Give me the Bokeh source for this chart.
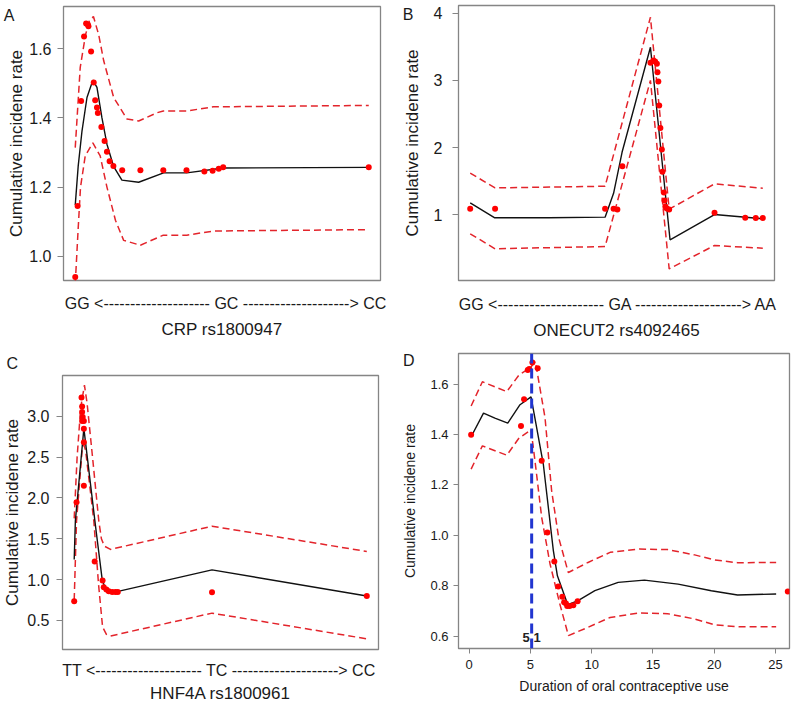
from bokeh.plotting import figure
from bokeh.models import Range1d, FixedTicker, Span, PrintfTickFormatter, LinearAxis, Title
from bokeh.layouts import column, row
from bokeh.embed import file_html
from bokeh.resources import INLINE
from bokeh.core.properties import value

FONT = "Liberation Sans"
RED_PT = "#ff0000"
RED_LN = "#e3242b"
TXT = "#1a1a1a"
GRAY = "#858585"

# ---------------- Panel A : CRP rs1800947 ----------------
a_pt_x = [0, 0.8, 2.0, 3.0, 3.7, 4.3, 4.5, 5.4, 6.3, 6.8, 7.4, 7.7, 8.9, 10.0, 10.8, 11.7, 13.0,
          16.0, 22.2, 30.0, 37.9, 44.0, 46.8, 48.9, 50.4, 100]
a_pt_y = [0.94, 1.145, 1.449, 1.635, 1.673, 1.67, 1.665, 1.592, 1.502, 1.451, 1.43, 1.414, 1.374,
          1.333, 1.302, 1.275, 1.261, 1.249, 1.249, 1.249, 1.249, 1.245, 1.247, 1.253, 1.257, 1.257]
a_fit_x = [0, 1.0, 2.3, 4.0, 6.0, 7.4, 9.1, 10.8, 13.1, 15.9, 21.6, 30.1, 38.0, 50.4, 100]
a_fit_y = [1.148, 1.26, 1.362, 1.459, 1.509, 1.488, 1.40, 1.324, 1.259, 1.22, 1.214, 1.241, 1.241, 1.255, 1.257]
a_up_x = [0, 1.7, 3.5, 4.8, 6.2, 8.0, 9.7, 13.1, 17.6, 21.6, 27.9, 30.0, 38.0, 47.1, 100]
a_up_y = [1.314, 1.546, 1.64, 1.68, 1.693, 1.64, 1.565, 1.459, 1.397, 1.391, 1.415, 1.42, 1.42, 1.432, 1.436]
a_lo_x = [0, 1.0, 1.8, 3.4, 6.0, 8.5, 10.8, 13.7, 16.5, 22.2, 30.0, 38.0, 47.1, 100]
a_lo_y = [0.92, 1.08, 1.2, 1.29, 1.328, 1.29, 1.2, 1.104, 1.046, 1.032, 1.061, 1.061, 1.073, 1.077]
a_yticks = [1.0, 1.2, 1.4, 1.6]
a_xtext = "GG <-------------------- GC --------------------> CC"
a_xtitle = "CRP rs1800947"

# ---------------- Panel B : ONECUT2 rs4092465 ----------------
b_pt_x = [0, 8.5, 46.1, 49.0, 50.3, 52.0, 61.6, 62.6, 63.2, 63.8, 64.0, 64.3, 64.6, 65.0, 65.5,
          65.7, 66.2, 66.4, 66.7, 67.2, 68.0, 83.5, 94.0, 97.6, 100]
b_pt_y = [1.089, 1.089, 1.089, 1.089, 1.08, 1.723, 3.262, 3.296, 3.28, 3.247, 3.122, 2.984, 2.627,
          2.29, 1.972, 1.64, 1.332, 1.213, 1.124, 1.094, 1.079, 1.03, 0.955, 0.952, 0.952]
b_fit_x = [0, 8.4, 26.8, 46.1, 49.0, 51.9, 61.6, 68.3, 83.5, 100]
b_fit_y = [1.178, 0.955, 0.955, 0.965, 1.32, 1.93, 3.494, 0.628, 1.004, 0.94]
b_up_x = [0, 8.5, 46.1, 61.6, 68.0, 83.5, 100]
b_up_y = [1.62, 1.40, 1.425, 3.94, 1.083, 1.46, 1.396]
b_lo_x = [0, 8.5, 46.1, 61.6, 68.0, 83.5, 100]
b_lo_y = [0.717, 0.494, 0.528, 3.0, 0.196, 0.543, 0.503]
b_yticks = [1, 2, 3, 4]
b_xtext = "GG <-------------------- GA --------------------> AA"
b_xtitle = "ONECUT2 rs4092465"

# ---------------- Panel C : HNF4A rs1800961 ----------------
c_pt_x = [0, 0.8, 2.5, 2.7, 2.7, 2.9, 2.7, 3.3, 3.3, 3.3, 3.3, 7.0, 9.7, 10.1, 11.0, 11.8, 13.0,
          14.1, 14.9, 47.1, 100]
c_pt_y = [0.736, 1.948, 3.23, 3.12, 3.05, 2.99, 2.94, 2.94, 2.846, 2.68, 2.15, 1.222, 0.99, 0.908,
          0.88, 0.859, 0.85, 0.849, 0.85, 0.847, 0.80]
c_fit_x = [0, 0.4, 3.3, 7.3, 9.6, 10.6, 11.8, 13.0, 15.0, 47.1, 100]
c_fit_y = [1.247, 1.72, 2.85, 1.65, 0.99, 0.90, 0.865, 0.85, 0.856, 1.12, 0.80]
c_up_x = [0, 1.0, 2.2, 3.5, 4.4, 6.4, 8.4, 9.3, 10.3, 12.4, 47.1, 100]
c_up_y = [1.75, 2.5, 3.1, 3.38, 3.16, 2.45, 1.72, 1.5, 1.41, 1.37, 1.654, 1.345]
c_lo_x = [0, 0.8, 2.7, 3.3, 3.9, 6.7, 8.3, 9.7, 11.0, 12.4, 47.1, 100]
c_lo_y = [0.75, 1.72, 2.58, 2.65, 2.58, 1.72, 0.95, 0.42, 0.33, 0.31, 0.59, 0.276]
c_yticks = [0.5, 1.0, 1.5, 2.0, 2.5, 3.0]
c_xtext = "TT <-------------------- TC --------------------> CC"
c_xtitle = "HNF4A rs1800961"

# ---------------- Panel D : duration of OC use ----------------
d_pt_x = [0.16, 4.48, 4.23, 4.78, 4.9, 5.16, 5.59, 5.92, 6.38, 6.95, 7.27, 7.6, 7.75, 7.9, 8.0,
          8.2, 8.5, 8.85, 26.0]
d_pt_y = [1.399, 1.54, 1.434, 1.656, 1.66, 1.685, 1.663, 1.296, 1.012, 0.897, 0.798, 0.757, 0.735,
          0.73, 0.72, 0.72, 0.723, 0.739, 0.778]
d_fit_x = [0.16, 1.17, 2.1, 3.15, 4.15, 5.05, 6.05, 6.87, 7.2, 8.04, 8.85, 10.26, 12.16, 14.3,
           17.05, 19.76, 21.9, 25.05]
d_fit_y = [1.391, 1.485, 1.465, 1.445, 1.518, 1.549, 1.283, 0.94, 0.84, 0.726, 0.741, 0.781, 0.814,
           0.823, 0.807, 0.781, 0.764, 0.768]
d_up_x = [0.16, 1.08, 3.07, 4.07, 5.0, 5.4, 6.19, 6.73, 7.3, 8.09, 9.7, 11.5, 13.9, 16.2, 18.4,
          20.0, 21.9, 25.05]
d_up_y = [1.513, 1.609, 1.570, 1.636, 1.665, 1.69, 1.467, 1.177, 0.992, 0.853, 0.893, 0.933, 0.946,
          0.944, 0.923, 0.903, 0.892, 0.893]
d_lo_x = [0.16, 1.08, 3.07, 4.07, 5.05, 5.37, 5.92, 6.6, 7.4, 8.1, 9.7, 11.5, 13.9, 16.2, 18.4,
          20.0, 21.9, 25.05]
d_lo_y = [1.263, 1.355, 1.318, 1.386, 1.419, 1.296, 1.071, 0.887, 0.728, 0.603, 0.636, 0.675, 0.693,
          0.69, 0.669, 0.646, 0.638, 0.638]
d_cut = 5.1
d_cut_label = "5.1"
d_xticks = [0, 5, 10, 15, 20, 25]
d_yticks = [0.6, 0.8, 1.0, 1.2, 1.4, 1.6]
d_xtitle = "Duration of oral contraceptive use"

YTITLE = "Cumulative incidene rate"
XR_GENO = (-4, 104)


def make_fig(W, H, geom, xr, yr):
    fl, fr, ft, fb = geom
    p = figure(width=W, height=H, x_range=Range1d(*xr), y_range=Range1d(*yr),
               output_backend="svg", toolbar_location=None, title=None,
               min_border_left=fl, min_border_right=W - fr,
               min_border_top=ft, min_border_bottom=H - fb)
    try:
        p.frame_align = False
    except Exception:
        pass
    p.grid.visible = False
    p.outline_line_color = GRAY
    p.outline_line_width = 1.3
    p.background_fill_color = "white"
    p.border_fill_color = "white"
    for ax in p.axis:
        ax.axis_line_color = GRAY
        ax.major_tick_line_color = GRAY
        ax.minor_tick_line_color = None
        ax.major_tick_in = 0
        ax.major_label_text_color = TXT
        ax.major_label_text_font = FONT
        ax.axis_label_text_font = FONT
        ax.axis_label_text_font_style = "normal"
        ax.axis_label_text_color = TXT
    return p


def data_at(px, py, geom, xr, yr):
    fl, fr, ft, fb = geom
    x = xr[0] + (px - fl) / (fr - fl) * (xr[1] - xr[0])
    y = yr[1] - (py - ft) / (fb - ft) * (yr[1] - yr[0])
    return x, y


def add_letter_axis(p, letter, py, geom, xr, yr, standoff):
    y = data_at(0, py, geom, xr, yr)[1]
    ax = LinearAxis(ticker=FixedTicker(ticks=[y]), formatter=PrintfTickFormatter(format=letter),
                    axis_line_color=None, major_tick_line_color=None, minor_tick_line_color=None,
                    major_tick_out=0, major_tick_in=0, major_label_standoff=standoff,
                    major_label_text_font_size="16px", major_label_text_font=FONT,
                    major_label_text_color=TXT)
    p.add_layout(ax, "left")


def draw_series(p, ptx, pty, fx, fy, ux, uy, lx, ly):
    p.line(ux, uy, line_color=RED_LN, line_width=1.5, line_dash="7 4")
    p.line(lx, ly, line_color=RED_LN, line_width=1.5, line_dash="7 4")
    p.line(fx, fy, line_color="#111111", line_width=1.4)
    p.scatter(ptx, pty, size=6, fill_color=RED_PT, line_color=None)


def genotype_panel(W, H, geom, yr, yticks, fmt, series, xtext, xtitle, text_cx,
                   tick_std, lab_std, x_std, xlab_std):
    xr = XR_GENO
    p = make_fig(W, H, geom, xr, yr)
    p.yaxis.ticker = FixedTicker(ticks=yticks)
    p.yaxis.formatter = PrintfTickFormatter(format=fmt)
    p.yaxis.major_tick_out = 6
    p.yaxis.major_label_text_font_size = "16px"
    p.yaxis.major_label_standoff = tick_std
    p.yaxis.axis_label = YTITLE
    p.yaxis.axis_label_text_font_size = "17px"
    p.yaxis.axis_label_standoff = lab_std
    # x axis carries the genotype text line and the SNP name
    xc = data_at(text_cx, 0, geom, xr, yr)[0]
    p.xaxis.ticker = FixedTicker(ticks=[xc])
    p.xaxis.formatter = PrintfTickFormatter(format=xtext)
    p.xaxis.axis_line_color = None
    p.xaxis.major_tick_line_color = None
    p.xaxis.major_tick_out = 0
    p.xaxis.major_label_text_font_size = "16px"
    p.xaxis.major_label_standoff = x_std
    p.xaxis.axis_label = xtitle
    p.xaxis.axis_label_text_font_size = "17px"
    p.xaxis.axis_label_standoff = xlab_std
    draw_series(p, *series)
    return p


# Panel A
gA = (63, 380, 6, 280)
yrA = (0.93, 1.722)
pA = genotype_panel(395, 350, gA, yrA, a_yticks, "%.1f",
                    (a_pt_x, a_pt_y, a_fit_x, a_fit_y, a_up_x, a_up_y, a_lo_x, a_lo_y),
                    a_xtext, a_xtitle, 225, 6, 0, 14, 5)
add_letter_axis(pA, "A", 15, gA, XR_GENO, yrA, -10)

# Panel B
gB = (63, 379, 5, 280)
yrB = (0.022, 4.115)
pB = genotype_panel(399, 350, gB, yrB, b_yticks, "%d",
                    (b_pt_x, b_pt_y, b_fit_x, b_fit_y, b_up_x, b_up_y, b_lo_x, b_lo_y),
                    b_xtext, b_xtitle, 222.7, 10, 9, 15, 5)
add_letter_axis(pB, "B", 14, gB, XR_GENO, yrB, -14)

# Panel C
gC = (61, 378, 25, 299)
yrC = (0.145, 3.498)
pC = genotype_panel(395, 356, gC, yrC, c_yticks, "%.1f",
                    (c_pt_x, c_pt_y, c_fit_x, c_fit_y, c_up_x, c_up_y, c_lo_x, c_lo_y),
                    c_xtext, c_xtitle, 218, 7, 2, 12, 2)
pC.add_layout(Title(text="C", align="left", vertical_align="top", offset=-56, standoff=4,
                    text_font=FONT, text_font_size="16px", text_font_style="normal",
                    text_color=TXT), "above")

# Panel D
gD = (63, 394, 3, 298)
xrD = (-0.87, 26.14)
yrD = (0.552, 1.721)
pD = make_fig(399, 356, gD, xrD, yrD)
pD.xaxis.ticker = FixedTicker(ticks=d_xticks)
pD.yaxis.ticker = FixedTicker(ticks=d_yticks)
pD.yaxis.formatter = PrintfTickFormatter(format="%.1f")
for ax in pD.axis:
    ax.major_tick_out = 5
    ax.major_label_text_font_size = "13px"
    ax.major_label_standoff = 5
    ax.axis_label_text_font_size = "14px"
pD.xaxis.major_label_standoff = 6
pD.xaxis.axis_label = d_xtitle
pD.xaxis.axis_label_standoff = 6
pD.yaxis.axis_label = YTITLE
pD.yaxis.axis_label_standoff = 9
draw_series(pD, d_pt_x, d_pt_y, d_fit_x, d_fit_y, d_up_x, d_up_y, d_lo_x, d_lo_y)
pD.text(x=[d_cut], y=[0.595], text=[d_cut_label], text_font=value(FONT), text_font_size="13px",
        text_font_style="bold", text_align="center", text_baseline="middle", text_color="#222222")
pD.add_layout(Span(location=d_cut, dimension="height", line_color="#2236d0", line_width=3,
                   line_dash="10 5"))
add_letter_axis(pD, "D", 7, gD, xrD, yrD, -15)

layout = column(row(pA, pB), row(pC, pD))
open("out.html", "w").write(file_html(layout, INLINE))
